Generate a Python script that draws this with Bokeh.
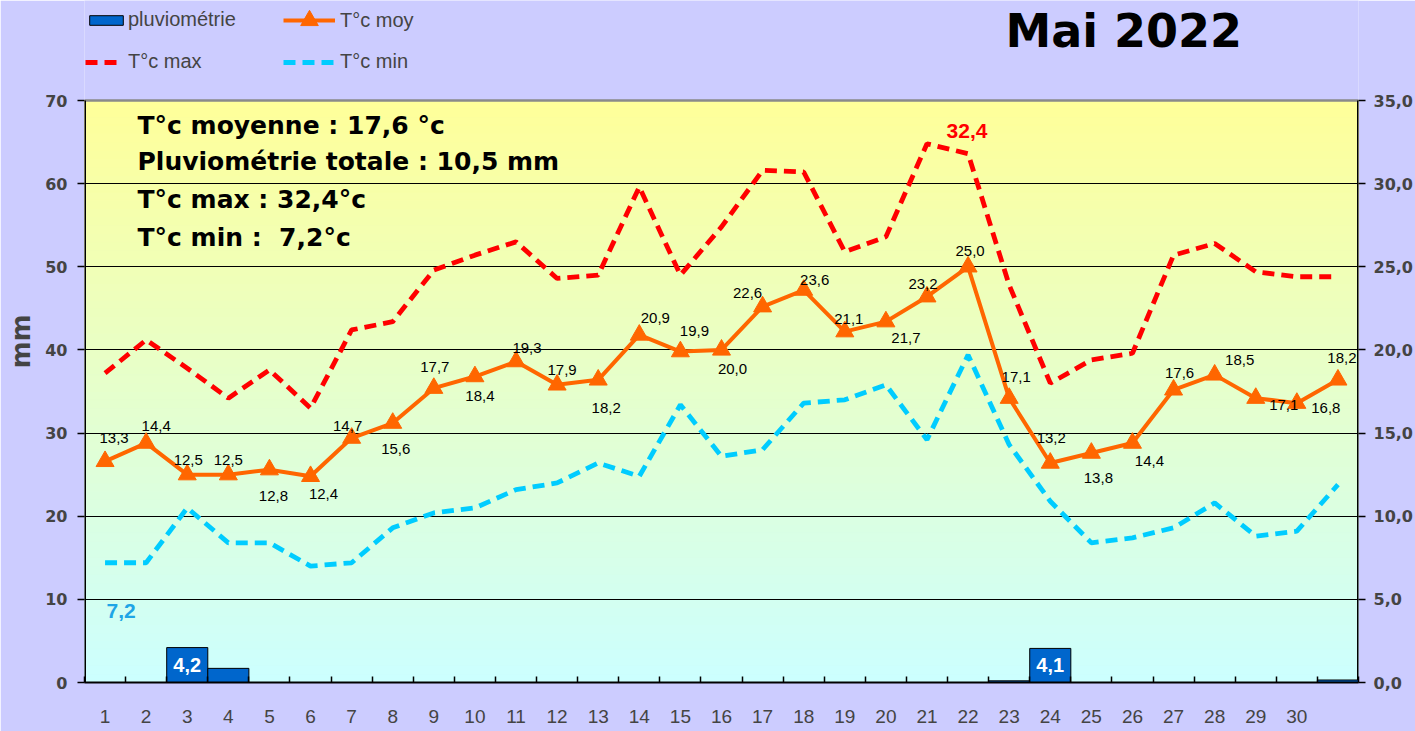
import numpy as np
from bokeh.plotting import figure
from bokeh.models import (ColumnDataSource, Range1d, LinearAxis, FixedTicker,
                          Legend, LegendItem, Label)
from bokeh.core.properties import value
from bokeh.embed import file_html
from bokeh.resources import INLINE

# ---------------- data ----------------
days = list(range(1, 32))
x_tick_labels = [str(d) for d in range(1, 31)]
rain = [0, 0, 4.2, 1.7, 0, 0, 0, 0, 0, 0, 0, 0, 0, 0, 0, 0, 0, 0, 0, 0,
        0, 0, 0.2, 4.1, 0, 0, 0, 0, 0, 0, 0.3]
t_moy = [13.3, 14.4, 12.5, 12.5, 12.8, 12.4, 14.7, 15.6, 17.7, 18.4, 19.3,
         17.9, 18.2, 20.9, 19.9, 20.0, 22.6, 23.6, 21.1, 21.7, 23.2, 25.0,
         17.1, 13.2, 13.8, 14.4, 17.6, 18.5, 17.1, 16.8, 18.2]
t_max = [18.6, 20.6, 18.9, 17.1, 18.8, 16.5, 21.2, 21.7, 24.8, 25.7, 26.5,
         24.3, 24.5, 29.8, 24.5, 27.4, 30.8, 30.7, 25.9, 26.8, 32.4, 31.8,
         23.9, 18.0, 19.4, 19.8, 25.7, 26.4, 24.7, 24.4, 24.4]
t_min = [7.2, 7.2, 10.5, 8.4, 8.4, 7.0, 7.2, 9.3, 10.2, 10.5, 11.6, 12.0,
         13.2, 12.4, 16.7, 13.6, 14.0, 16.8, 17.0, 17.9, 14.6, 19.7, 14.3,
         10.9, 8.4, 8.7, 9.3, 10.8, 8.8, 9.1, 11.9]
left_ticks = [0, 10, 20, 30, 40, 50, 60, 70]
right_ticks = [0, 5, 10, 15, 20, 25, 30, 35]
right_tick_labels = ["0,0", "5,0", "10,0", "15,0", "20,0", "25,0", "30,0", "35,0"]
stats_lines = ["T°c moyenne : 17,6 °c", "Pluviométrie totale : 10,5 mm",
               "T°c max : 32,4°c", "T°c min : \u00a07,2°c"]
title_text = "Mai 2022"

# label placement (style): pixel offsets of the daily mean labels
moy_dx = [9, 10, 1, 0, 4, 13, -4, 3, 1, 5, 11, 5, 8, 16, 14, 11, -15, 11, 4,
          20, -4, 2, 7, 1, 7, 17, 6, 25, 28, 29, 4]
moy_dy = [-23, -17, -15, -15, 26, 18, -12, 26, -21, 19, -14, -15, 28, -17,
          -21, 19, -14, -10, -13, 16, -13, -16, -21, -25, 25, 18, -17, -15,
          7, 5, -22]

def fr(v):
    return f"{v:.1f}".replace(".", ",")

BOLD = "DejaVu Sans"
REG = "Liberation Sans"

# frame: x 84..1358, y 0..682 (page px); 70 mm spans 582 px
MM_TOP = 70 * 682 / 582.0
p = figure(width=1415, height=731, x_range=Range1d(0.5, 31.5),
           y_range=Range1d(0, MM_TOP), output_backend="svg",
           toolbar_location=None,
           min_border_left=84, min_border_right=57, min_border_top=0,
           min_border_bottom=49, border_fill_color="#CCCCFF",
           background_fill_color="#CCCCFF", outline_line_color=None)
p.extra_y_ranges = {"temp": Range1d(0, MM_TOP / 2)}

# background gradient (yellow at top -> cyan at bottom), inside 0..70 mm
n = 70
ys = np.linspace(0, 70, n + 1)
cols = []
for i in range(n):
    t = (ys[i] + ys[i + 1]) / 2 / 70
    r = int(round(204 + (255 - 204) * t))
    b = int(round(255 + (153 - 255) * t))
    cols.append("#%02x%02x%02x" % (r, 255, b))
p.quad(left=p.x_range.start, right=p.x_range.end, bottom=ys[:-1], top=ys[1:],
       fill_color=cols, line_color=cols, line_width=1, level="image")

# grid
p.xgrid.visible = False
p.ygrid.ticker = FixedTicker(ticks=left_ticks[1:-1])
p.ygrid.grid_line_color = "black"
p.ygrid.grid_line_width = 1

# frame lines (top border + vertical axis lines limited to 0..70)
p.segment(x0=[p.x_range.start], y0=[left_ticks[-1]], x1=[p.x_range.end],
          y1=[left_ticks[-1]], line_color="#8a8a8a", line_width=2.5)
p.segment(x0=[p.x_range.start, p.x_range.end], y0=[0, 0],
          x1=[p.x_range.start, p.x_range.end],
          y1=[left_ticks[-1], left_ticks[-1]], line_color="black", line_width=3)

# left axis
ya = p.yaxis[0]
ya.ticker = FixedTicker(ticks=left_ticks)
ya.axis_label = "mm"
ya.axis_label_text_font = BOLD
ya.axis_label_text_font_style = "bold"
ya.axis_label_text_font_size = "26px"
ya.axis_label_standoff = 6
ya.major_label_text_font = BOLD
ya.major_label_text_font_style = "bold"
ya.major_label_text_font_size = "16px"
ya.major_label_standoff = 10
ya.major_tick_out = 7
ya.major_tick_in = 0
ya.major_tick_line_width = 1.5
ya.minor_tick_line_color = None
ya.axis_line_color = None

# right axis
ra = LinearAxis(y_range_name="temp", ticker=FixedTicker(ticks=right_ticks),
                major_label_overrides=dict(zip(right_ticks, right_tick_labels)))
ra.major_label_text_font = BOLD
ra.major_label_text_font_style = "bold"
ra.major_label_text_font_size = "16px"
ra.major_label_standoff = 8
ra.major_tick_out = 7
ra.major_tick_in = 0
ra.major_tick_line_width = 1.5
ra.minor_tick_line_color = None
ra.axis_line_color = None
p.add_layout(ra, "right")

# bottom axis
xa = p.xaxis[0]
xa.ticker = FixedTicker(ticks=days[:30],
                        minor_ticks=[d - 0.5 for d in days] + [days[-1] + 0.5])
xa.major_label_overrides = dict(zip(days[:30], x_tick_labels))
xa.major_tick_line_color = None
xa.minor_tick_in = 6
xa.minor_tick_out = 0
xa.minor_tick_line_color = "black"
xa.minor_tick_line_width = 1.5
xa.axis_line_color = "black"
xa.axis_line_width = 2
xa.major_label_text_font = REG
xa.major_label_text_font_size = "19px"
xa.major_label_standoff = 21

# rain bars
bar_r = p.vbar(x=days, top=rain, width=1.0, fill_color="#0066CC",
               line_color="black", line_width=1)
big = [i for i, v in enumerate(rain) if v >= 3]
p.text(x=[days[i] for i in big], y=[rain[i] / 2 for i in big],
       text=[fr(rain[i]) for i in big], text_color="white",
       text_font=value(REG), text_font_style="bold", text_font_size="20px",
       text_align="center", text_baseline="middle")

# temperature lines
min_r = p.line(days, t_min, y_range_name="temp", line_color="#00CCFF",
               line_width=4.8, line_dash="12 7")
max_r = p.line(days, t_max, y_range_name="temp", line_color="#FF0000",
               line_width=4.8, line_dash="12 7")
moy_r = p.line(days, t_moy, y_range_name="temp", line_color="#FF6600",
               line_width=4)
moy_s = p.scatter(days, t_moy, y_range_name="temp", marker="triangle",
                  size=18, fill_color="#FF6600", line_color="#FF6600")

src = ColumnDataSource(dict(x=days, y=t_moy, text=[fr(v) for v in t_moy],
                            dx=moy_dx, dy=moy_dy))
p.text(x="x", y="y", text="text", x_offset="dx", y_offset="dy", source=src,
       y_range_name="temp", text_font=value(REG), text_font_size="15px",
       text_color="black", text_align="center", text_baseline="middle")

imax = int(np.argmax(t_max))
p.text(x=[days[imax]], y=[t_max[imax]], text=[fr(t_max[imax])],
       x_offset=40, y_offset=-13, y_range_name="temp", text_color="#FF0000",
       text_font=value(REG), text_font_style="bold", text_font_size="21px",
       text_align="center", text_baseline="middle")
p.text(x=[days[0]], y=[t_min[0]], text=[fr(t_min[0])],
       x_offset=16, y_offset=48, y_range_name="temp", text_color="#1EA5E6",
       text_font=value(REG), text_font_style="bold", text_font_size="21px",
       text_align="center", text_baseline="middle")

# stats block and title (inside the extended frame)
for k, line in enumerate(stats_lines):
    p.add_layout(Label(x=53, y=557 - [0, 36, 74, 112][k], x_units="screen",
                       y_units="screen", text=line, text_font=BOLD,
                       text_font_style="bold", text_font_size="25px",
                       text_color="black", text_baseline="middle"))
p.add_layout(Label(x=921, y=652, x_units="screen", y_units="screen",
                   text=title_text, text_font=BOLD,
                   text_font_style="bold", text_font_size="46px",
                   text_color="black", text_baseline="middle"))

# legends (above the 0..70 area); location = bottom-left, from frame bottom
def mk_legend(label, renderers, x, y, gw, gh, standoff):
    lg = Legend(items=[LegendItem(label=label, renderers=renderers)],
                location=(x, y), glyph_width=gw, glyph_height=gh,
                label_standoff=standoff, padding=0, margin=0, spacing=0,
                border_line_color=None, background_fill_alpha=0,
                label_text_font=REG, label_text_font_size="20px",
                label_height=22)
    p.add_layout(lg)

mk_legend("pluviométrie", [bar_r], 1, 651, 42, 12, 1)
mk_legend("T°c moy", [moy_r, moy_s], 199, 640, 52, 44, 5)
mk_legend("T°c max", [max_r], 1, 609, 38, 12, 5)
mk_legend("T°c min", [min_r], 199, 609, 52, 12, 5)

open("out.html", "w").write(file_html(p, INLINE))
